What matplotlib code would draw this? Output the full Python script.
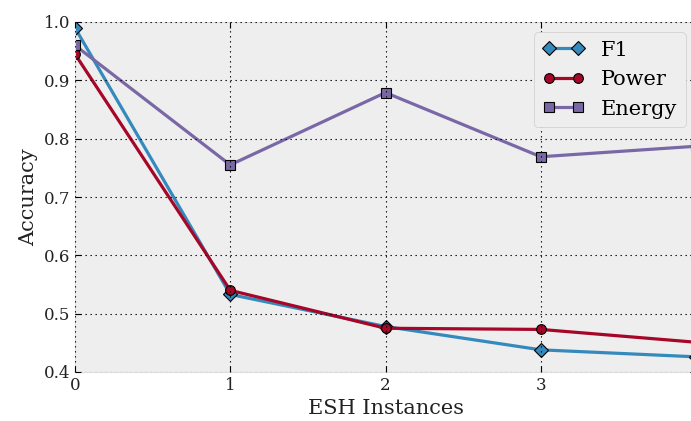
import matplotlib
matplotlib.use("Agg")
import matplotlib.pyplot as plt

plt.style.use('bmh')
matplotlib.rcParams['font.family'] = ['DejaVu Serif']

# ESH instances on x, accuracy for each metric
instances = [0, 1, 2, 3, 4]
f1 = [0.990, 0.533, 0.478, 0.438, 0.426]
power = [0.945, 0.540, 0.475, 0.473, 0.451]
energy = [0.960, 0.755, 0.879, 0.769, 0.787]

W, H = 691, 421
fig = plt.figure(figsize=(W / 100, H / 100), dpi=100)
ax = fig.add_axes([75 / W, (H - 372) / H, (696 - 75) / W, (372 - 22) / H])
ax.set_facecolor('#eeeeee')
ax.set_axisbelow(False)

lines = []
lines += ax.plot(instances, f1, marker='D', color='#348ABD', lw=2.3, ms=7,
                 mec='black', mew=0.8, label='F1')
lines += ax.plot(instances, power, marker='o', color='#A60628', lw=2.3, ms=7,
                 mec='black', mew=0.8, label='Power')
lines += ax.plot(instances, energy, marker='s', color='#7A68A6', lw=2.3, ms=7,
                 mec='black', mew=0.8, label='Energy')
# clip markers at the axes edge too
for ln in lines:
    ln.set_clip_path(ax.patch)

ax.set_xlim(0, 4)
ax.set_ylim(0.4, 1.0)
ax.set_xticks([0, 1, 2, 3])
ax.set_yticks([0.4, 0.5, 0.6, 0.7, 0.8, 0.9, 1.0])
ax.grid(True, color='black', linestyle=(0, (1.2, 3.3)), linewidth=0.8)
ax.tick_params(direction='in', length=4, color='black', labelsize=12,
               top=True, right=True, labelcolor='#222222')
for s in ax.spines.values():
    s.set_color('#dddddd')

ax.set_xlabel('ESH Instances', fontsize=15, color='#222222')
ax.set_ylabel('Accuracy', fontsize=15, color='#222222')

leg = ax.legend(loc='upper right', fontsize=15, numpoints=2, fancybox=True,
                facecolor='#eeeeee', edgecolor='#cccccc', framealpha=1)

fig.savefig('out.png', dpi=100)
